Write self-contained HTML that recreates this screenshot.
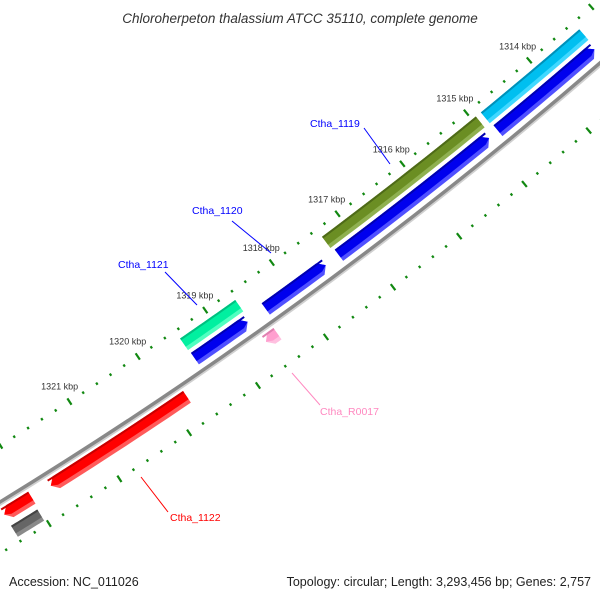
<!DOCTYPE html>
<html><head><meta charset="utf-8"><style>
body{margin:0;background:#fff}
svg{display:block;font-family:"Liberation Sans","DejaVu Sans",sans-serif}
</style></head><body>
<svg id="map" width="600" height="600" viewBox="0 0 600 600">
<rect width="600" height="600" fill="#fff"/>
<g id="ticks"></g>
<g id="backbone"></g>
<g id="genes"></g>
<g id="labels"></g>
<text x="300" y="23" text-anchor="middle" font-size="13.5" font-style="italic" fill="#333">Chloroherpeton thalassium ATCC 35110, complete genome</text>
<text x="9" y="586" font-size="12.5" fill="#222">Accession: NC_011026</text>
<text x="591" y="586" text-anchor="end" font-size="12.5" fill="#222">Topology: circular; Length: 3,293,456 bp; Genes: 2,757</text>
</svg>
<script>
// data (kbp positions)
const tickKbp = [1312,1313,1314,1315,1316,1317,1318,1319,1320,1321,1322,1323,1324];
const tickLabels = ["1314 kbp","1315 kbp","1316 kbp","1317 kbp","1318 kbp","1319 kbp","1320 kbp","1321 kbp"];
const tickLabelKbp = [1314,1315,1316,1317,1318,1319,1320,1321];
const geneNames = ["cyan-gene","olive-gene-ctha-1119","green-gene-ctha-1121","blue-gene-1","blue-gene-2","blue-gene-ctha-1120","blue-gene-4","red-gene-ctha-1122","red-gene-small","pink-rna-ctha-r0017","gray-gene"];
const geneStart = [1313.29,1314.94,1318.63,1313.31,1314.98,1317.49,1318.66,1319.78,1322.01,1318.45,1322.03];
const geneEnd   = [1314.86,1317.32,1319.45,1314.84,1317.29,1318.39,1319.44,1321.74,1322.40,1318.62,1322.40];
const geneRing  = [0,0,0,1,1,1,1,2,2,2,3];
const geneArrow = [0,0,0,-1,-1,-1,-1,1,1,1,0];
const geneColor = ["#00bff0","#6b8e23","#00f0a0","#0000ee","#0000ee","#0000ee","#0000ee","#ff0000","#ff0000","#ff9fcf","#666666"];
const geneLight = ["#40d8ff","#8fb050","#50ffc0","#5050ff","#5050ff","#5050ff","#5050ff","#ff5a5a","#ff5a5a","#ffc0e0","#8a8a8a"];
const geneDark  = ["#0090b8","#4e6a18","#00c080","#0000b0","#0000b0","#0000b0","#0000b0","#c80000","#c80000","#e080b0","#444444"];

// geometry
const CX=-2363, CY=-3357;
const R_BACK=4525, R_TICK_OUT=4477, R_TICK_IN=4569;
const RING_IN=[4486,4504,4531,4551], RING_OUT=[4500,4518,4545,4564];
const A0=52.90, DPK=1.0475;
const NS="http://www.w3.org/2000/svg";
function ang(k){return (A0+(k-1317)*DPK)*Math.PI/180;}
function pt(r,a){return [CX+r*Math.cos(a), CY+r*Math.sin(a)];}
function mk(tag,attrs,parent){const e=document.createElementNS(NS,tag);for(const k in attrs)e.setAttribute(k,attrs[k]);parent.appendChild(e);return e;}
function arcD(r,k1,k2){const p1=pt(r,ang(k1)),p2=pt(r,ang(k2));return `M${p1[0].toFixed(2)},${p1[1].toFixed(2)} A${r},${r} 0 0 1 ${p2[0].toFixed(2)},${p2[1].toFixed(2)}`;}

// ticks
const tg=document.getElementById('ticks');
for(let i=0;i<tickKbp.length-1;i++){
  for(let m=0;m<5;m++){
    const k=tickKbp[i]+m*0.2; const a=ang(k); const major=(m===0);
    [R_TICK_OUT,R_TICK_IN].forEach(function(r){
      const h=major?3.8:1.3;
      const p1=pt(r-h,a),p2=pt(r+h,a);
      const l=mk('line',{x1:p1[0],y1:p1[1],x2:p2[0],y2:p2[1],stroke:'#118811','stroke-width':major?2.2:2.2},tg);
      
      
    });
  }
}
tickLabels.forEach(function(t,i){
  const p=pt(4459,ang(tickLabelKbp[i]));
  const e=mk('text',{x:p[0],y:p[1]+3,'text-anchor':'middle','font-size':'9',fill:'#333'},tg);
  e.textContent=t;
  
  
});

// backbone
const bg=document.getElementById('backbone');
const sh=mk('path',{d:arcD(R_BACK+2,1311,1325),fill:'none',stroke:'#d0d0d0','stroke-width':3},bg);


const bb=mk('path',{d:arcD(R_BACK,1311,1325),fill:'none',stroke:'#888','stroke-width':3.5},bg);



// genes
const gg=document.getElementById('genes');
function bandPath(r1,r2,k1,k2,arrow){
  const head=0.08; const rm=(RING_IN_cur+RING_OUT_cur)/2;
  let pts=[];
  let s=k1,e=k2;
  if(arrow===-1) s=k1+head; if(arrow===1) e=k2-head;
  if(e<s){e=s;}
  const n=12;
  for(let i=0;i<=n;i++){pts.push(pt(r1,ang(s+(e-s)*i/n)));}
  if(arrow===1) pts.push(pt(Math.min(Math.max(rm,r1),r2),ang(k2)));
  for(let i=n;i>=0;i--){pts.push(pt(r2,ang(s+(e-s)*i/n)));}
  if(arrow===-1) pts.push(pt(Math.min(Math.max(rm,r1),r2),ang(k1)));
  return 'M'+pts.map(p=>p[0].toFixed(2)+','+p[1].toFixed(2)).join(' L')+' Z';
}
let RING_IN_cur=0,RING_OUT_cur=0;
for(let i=0;i<geneStart.length;i++){
  const ring=geneRing[i]; const r1=RING_IN[ring], r2=RING_OUT[ring];
  RING_IN_cur=r1; RING_OUT_cur=r2;
  const g=mk('g',{},gg);
  
  
  mk('path',{d:bandPath(r1,r2,geneStart[i],geneEnd[i],geneArrow[i]),fill:geneLight[i]},g);
  mk('path',{d:bandPath(r1,r2-4,geneStart[i],geneEnd[i],geneArrow[i]),fill:geneColor[i]},g);
  mk('path',{d:bandPath(r1,r1+2,geneStart[i],geneEnd[i],0),fill:geneDark[i]},g);
}

// labels with leader lines
const lg=document.getElementById('labels');
const labelText=["Ctha_1119","Ctha_1120","Ctha_1121","Ctha_R0017","Ctha_1122"];
const labelColor=["#0000ff","#0000ff","#0000ff","#ff88c0","#ff0000"];
const labelPos=[[310,127],[192,214],[118,268],[320,415],[170,521]];
const leader=[[[364,128],[390,164]],[[232,221],[271,253]],[[165,272],[197,305]],[[292,373],[320,405]],[[141,477],[168,512]]];
labelText.forEach(function(t,i){
  const l=mk('line',{x1:leader[i][0][0],y1:leader[i][0][1],x2:leader[i][1][0],y2:leader[i][1][1],stroke:labelColor[i],'stroke-width':1},lg);
  
  
  const e=mk('text',{x:labelPos[i][0],y:labelPos[i][1],'font-size':'10.5',fill:labelColor[i]},lg);
  e.textContent=t;
  
  
});
</script>
</body></html>
